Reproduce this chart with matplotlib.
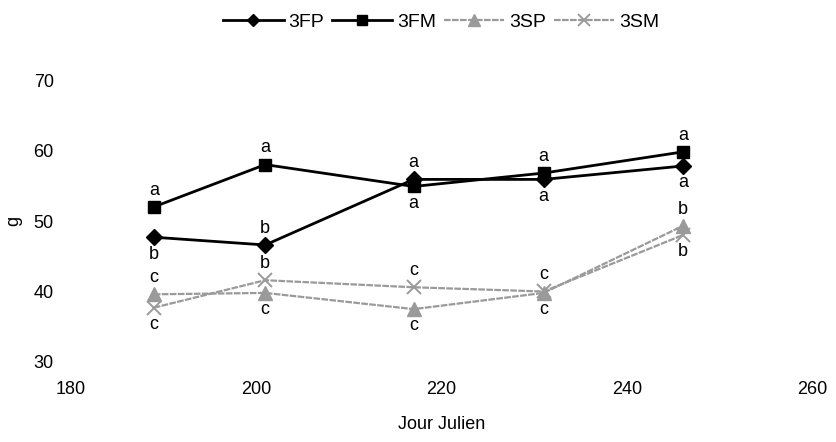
import matplotlib.pyplot as plt

plt.rcParams['font.family'] = ['Liberation Sans', 'DejaVu Sans']

jours = [189, 201, 217, 231, 246]
fp = [47.7, 46.6, 55.9, 55.9, 57.8]
fm = [52.0, 58.0, 54.9, 56.8, 59.8]
sp = [39.6, 39.8, 37.5, 39.8, 49.3]
sm = [37.7, 41.6, 40.6, 40.0, 48.0]

# lettres de significativite, avec position (+1 dessus, -1 dessous)
fp_let = ['b', 'b', 'a', 'a', 'a']
fp_pos = [-1, 1, 1, -1, -1]
fm_let = ['a', 'a', 'a', 'a', 'a']
fm_pos = [1, 1, -1, 1, 1]
sp_let = ['c', 'c', 'c', 'c', 'b']
sp_pos = [1, -1, -1, -1, 1]
sm_let = ['c', 'b', 'c', 'c', 'b']
sm_pos = [-1, 1, 1, 1, -1]

fig = plt.figure(figsize=(8.37, 4.42), dpi=100)
ax = fig.add_axes([0.084, 0.181, 0.887, 0.638])

grey = '#9a9a9a'
ax.plot(jours, fp, color='black', lw=2, marker='D', ms=8, label='3FP', zorder=4)
ax.plot(jours, fm, color='black', lw=2, marker='s', ms=9, label='3FM', zorder=4)
ax.plot(jours, sp, color=grey, lw=1.6, ls=(0, (3, 0.6)), marker='^', ms=10, label='3SP', zorder=3)
ax.plot(jours, sm, color=grey, lw=1.6, ls=(0, (3, 0.6)), marker='x', ms=10, mew=1.4, label='3SM', zorder=3)

for vals, lets, pos in [(fp, fp_let, fp_pos), (fm, fm_let, fm_pos),
                        (sp, sp_let, sp_pos), (sm, sm_let, sm_pos)]:
    for x, y, t, p in zip(jours, vals, lets, pos):
        ax.annotate(t, (x, y), xytext=(0, 6 * p), textcoords='offset points',
                    ha='center', va='bottom' if p > 0 else 'top', fontsize=13)

ax.set_xlim(180, 260)
ax.set_ylim(30, 70)
ax.set_xticks([180, 200, 220, 240, 260])
ax.set_yticks([30, 40, 50, 60, 70])
ax.tick_params(length=0, labelsize=13, pad=14)
ax.tick_params(axis='y', pad=12)
for s in ax.spines.values():
    s.set_visible(False)
ax.set_xlabel('Jour Julien', fontsize=13, labelpad=13)
ax.set_ylabel('g', fontsize=13, labelpad=8)

fig.legend(loc='upper center', bbox_to_anchor=(0.527, 1.01), ncol=4, frameon=False,
           fontsize=14, handlelength=3.1, columnspacing=0.4, handletextpad=0.25,
           markerscale=0.8)

fig.savefig('out.png')
